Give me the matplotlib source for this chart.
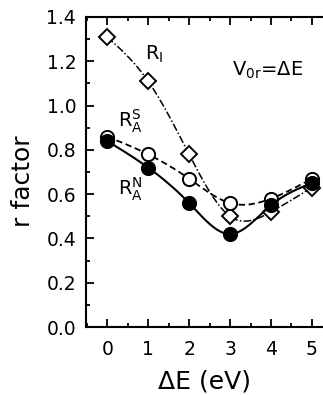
import numpy as np
import matplotlib
matplotlib.use("Agg")
import matplotlib.pyplot as plt
from matplotlib.ticker import MultipleLocator, FormatStrFormatter

dE = [0, 1, 2, 3, 4, 5]
R_I = [1.31, 1.11, 0.78, 0.50, 0.52, 0.63]
R_AS = [0.86, 0.78, 0.67, 0.56, 0.58, 0.67]
R_AN = [0.84, 0.72, 0.56, 0.42, 0.55, 0.65]


def natural_spline(x, y, n=300):
    x = np.asarray(x, float); y = np.asarray(y, float)
    m = len(x); h = np.diff(x)
    A = np.zeros((m, m)); b = np.zeros(m)
    A[0, 0] = A[-1, -1] = 1
    for i in range(1, m - 1):
        A[i, i - 1] = h[i - 1]; A[i, i] = 2 * (h[i - 1] + h[i]); A[i, i + 1] = h[i]
        b[i] = 3 * ((y[i + 1] - y[i]) / h[i] - (y[i] - y[i - 1]) / h[i - 1])
    c = np.linalg.solve(A, b)
    xs = np.linspace(x[0], x[-1], n); ys = np.empty_like(xs)
    for k, xv in enumerate(xs):
        i = min(np.searchsorted(x, xv, side='right') - 1, m - 2)
        d = xv - x[i]
        bb = (y[i + 1] - y[i]) / h[i] - h[i] * (2 * c[i] + c[i + 1]) / 3
        dd = (c[i + 1] - c[i]) / (3 * h[i])
        ys[k] = y[i] + bb * d + c[i] * d ** 2 + dd * d ** 3
    return xs, ys


plt.rcParams['font.family'] = ['DejaVu Sans']
plt.rcParams['mathtext.default'] = 'regular'
fig = plt.figure(figsize=(3.23, 3.95), dpi=100)
ax = fig.add_axes([0.266, 0.172, 0.734, 0.785])

xs, ys = natural_spline(dE, R_I)
ax.plot(xs, ys, color='black', lw=1.1, ls=(0, (5, 1.5, 1, 1.5)))
ax.plot(dE, R_I, ls='none', marker='D', ms=8.5, mfc='white', mec='black', mew=1.4)

xs, ys = natural_spline(dE, R_AS)
ax.plot(xs, ys, color='black', lw=1.3, ls=(0, (3.5, 2)))
ax.plot(dE, R_AS, ls='none', marker='o', ms=9.5, mfc='white', mec='black', mew=1.4)

xs, ys = natural_spline(dE, R_AN)
ax.plot(xs, ys, color='black', lw=1.5, ls='-')
ax.plot(dE, R_AN, ls='none', marker='o', ms=9.5, mfc='black', mec='black', mew=1.4)

ax.set_xlim(-0.52, 5.27)
ax.set_ylim(0, 1.4)
ax.xaxis.set_major_locator(MultipleLocator(1))
ax.xaxis.set_minor_locator(MultipleLocator(0.5))
ax.yaxis.set_major_locator(MultipleLocator(0.2))
ax.yaxis.set_minor_locator(MultipleLocator(0.1))
ax.yaxis.set_major_formatter(FormatStrFormatter('%.1f'))
ax.tick_params(which='both', direction='in', top=True, right=False, width=1.3, labelsize=13.5)
ax.tick_params(which='major', length=6)
ax.tick_params(which='minor', length=3)
ax.tick_params(axis='x', pad=9)
ax.tick_params(axis='y', pad=7)
ax.spines['right'].set_visible(False)
for s in ['left', 'bottom', 'top']:
    ax.spines[s].set_linewidth(1.5)

ax.set_xlabel('ΔE (eV)', fontsize=18, labelpad=8)
ax.set_ylabel('r factor', fontsize=18)
ax.yaxis.set_label_coords(-0.215, 0.47)

ax.text(0.93, 1.23, r'R$_{I}$', fontsize=14, va='center')
ax.text(0.27, 0.93, r'R$_{A}^{S}$', fontsize=14, va='center')
ax.text(0.27, 0.62, r'R$_{A}^{N}$', fontsize=14, va='center')
ax.text(3.05, 1.16, r'V$_{0r}$=ΔE', fontsize=14, va='center')

fig.savefig('out.png', dpi=100)
